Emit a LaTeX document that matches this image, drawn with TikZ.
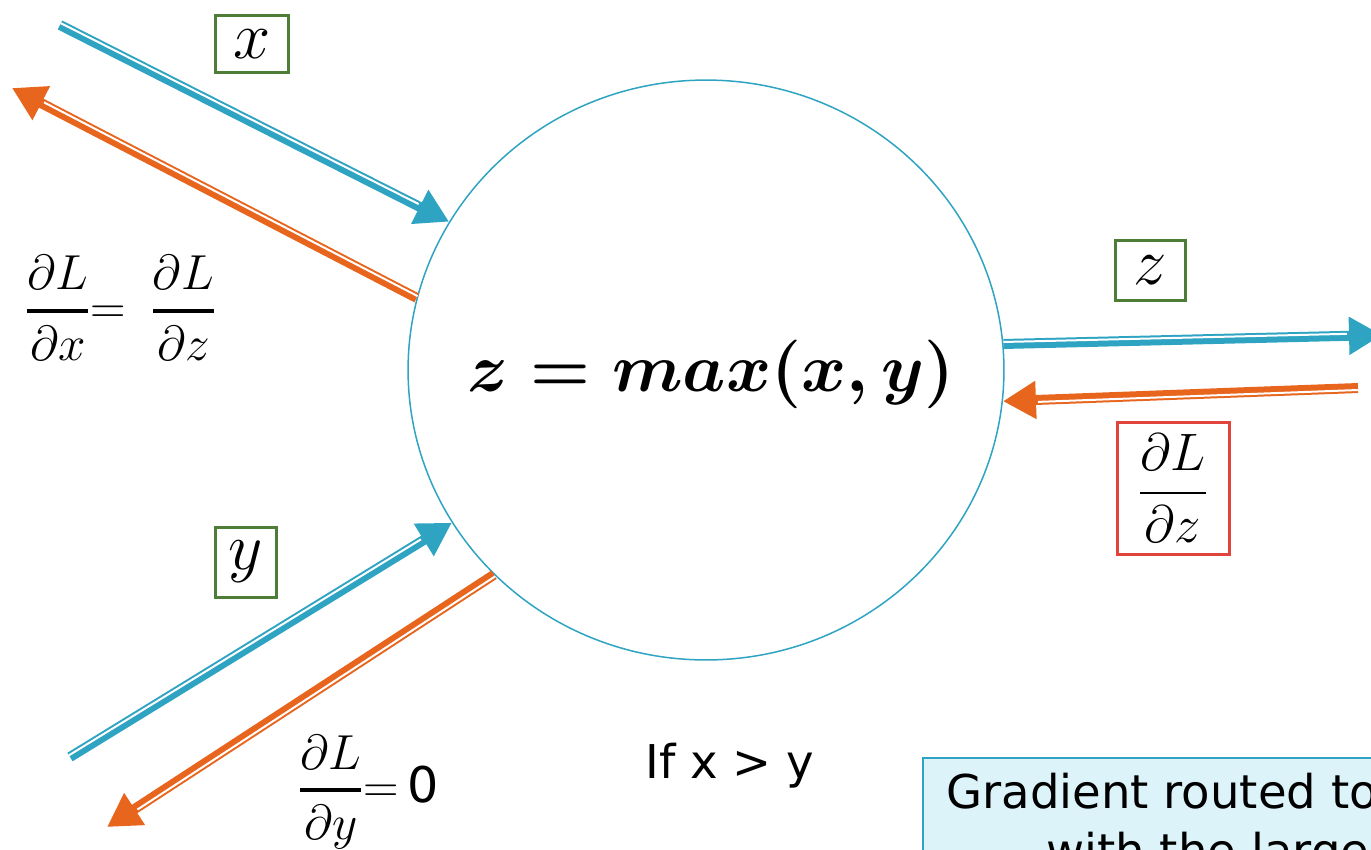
\RequirePackage{fix-cm}
\documentclass[tikz,border=0pt]{standalone}
\usepackage{amsmath,amssymb}
\usepackage{fontspec}
\newfontfamily\verdana{DejaVu Sans}
\usetikzlibrary{arrows.meta,shapes.geometric,calc}

\definecolor{fwdblue}{HTML}{2EA3C2}
\definecolor{bwdorange}{HTML}{E8651E}
\definecolor{boxgreen}{HTML}{4E7D38}
\definecolor{boxred}{HTML}{E0443A}
\definecolor{notefill}{HTML}{DCF3F9}

\newcommand{\gradfrac}[1]{\genfrac{}{}{2.5pt}{0}{\partial L}{\partial #1}}

\begin{document}
\begin{tikzpicture}[x=0.02cm,y=-0.02cm,
  fwd/.style={line width=0.2cm, draw=fwdblue, -{Triangle[length=0.66cm,width=0.72cm]}},
  bwd/.style={line width=0.2cm, draw=bwdorange, -{Triangle[length=0.66cm,width=0.72cm]}},
  gap/.style={line width=0.04cm, draw=white, shorten >=0.7cm},
  varbox/.style={draw=boxgreen, line width=0.06cm, fill=white, inner sep=0pt, font=\fontsize{38}{42}\selectfont},
  eqtext/.style={font=\fontsize{28}{34}\selectfont, inner sep=0pt},
  sanstext/.style={font=\verdana\fontsize{26.5}{32}\selectfont, inner sep=0pt, anchor=base west}
]
\useasboundingbox (0,0) rectangle (1371,849);
\clip (0,0) rectangle (1371,849);

% Max gate
\node[ellipse, draw=fwdblue, line width=0.03cm, minimum width=11.92cm, minimum height=11.6cm] (maxgate) at (706,370) {};
\node[font=\fontsize{39}{44}\selectfont] (gatelabel) at (711,374) {$\boldsymbol{z = max(x, y)}$};

% Free ends
\coordinate (xstart) at (60,25);
\coordinate (xgrad) at (12,88);
\coordinate (zend) at (1382,335);
\coordinate (zgrad) at (1358,388);
\coordinate (ystart) at (70,757);
\coordinate (ygrad) at (107,827);

% Forward pass
\draw[fwd] (xstart) -- (maxgate.150);
\draw[gap] ($(xstart)!0.04cm!90:(maxgate.150)$) -- ($(maxgate.150)!0.04cm!-90:(xstart)$);
\draw[fwd] (ystart) -- (maxgate.211);
\draw[gap] ($(ystart)!0.04cm!90:(maxgate.211)$) -- ($(maxgate.211)!0.04cm!-90:(ystart)$);
\draw[fwd] (maxgate.5) -- (zend);
\draw[gap] ($(maxgate.5)!0.04cm!90:(zend)$) -- ($(zend)!0.04cm!-90:(maxgate.5)$);

% Backward pass
\draw[bwd] (maxgate.166) -- (xgrad);
\draw[gap] ($(maxgate.166)!0.04cm!-90:(xgrad)$) -- ($(xgrad)!0.04cm!90:(maxgate.166)$);
\draw[bwd] (maxgate.224) -- (ygrad);
\draw[gap] ($(maxgate.224)!0.04cm!90:(ygrad)$) -- ($(ygrad)!0.04cm!-90:(maxgate.224)$);
\draw[bwd] (zgrad) -- (maxgate.-6);
\draw[gap] ($(zgrad)!0.04cm!90:(maxgate.-6)$) -- ($(maxgate.-6)!0.04cm!-90:(zgrad)$);

% Variable labels
\node[varbox, minimum width=1.46cm, minimum height=1.14cm] (xlabel) at (252,44) {$x$};
\node[varbox, minimum width=1.4cm, minimum height=1.2cm] (zlabel) at (1150,270) {$z$};
\node[varbox, minimum width=1.24cm, minimum height=1.4cm] (ylabel) at (246,562) {$y$};
\node[varbox, draw=boxred, minimum width=2.24cm, minimum height=2.64cm,
  font=\fontsize{30}{36}\selectfont] (dzlabel) at (1173,488) {$\dfrac{\partial L}{\partial z}$};

% Gradients
\node[eqtext, anchor=west] (dxeq) at (25,308) {$\gradfrac{x}{=}\hspace{0.5cm}\gradfrac{z}$};
\node[eqtext, anchor=west] (dyeq) at (298,792) {$\gradfrac{y}{=}$\,\verdana 0};

% Condition and note
\node[sanstext] (cond) at (645,778) {If x > y};
\node[draw=fwdblue, fill=notefill, line width=0.04cm, anchor=north west,
  minimum width=10cm, minimum height=3cm] (note) at (922,757) {};
\node[sanstext] (noteline1) at (946,808) {Gradient routed to};
\node[sanstext] (noteline2) at (1046,867) {with the large};
\end{tikzpicture}
\end{document}
